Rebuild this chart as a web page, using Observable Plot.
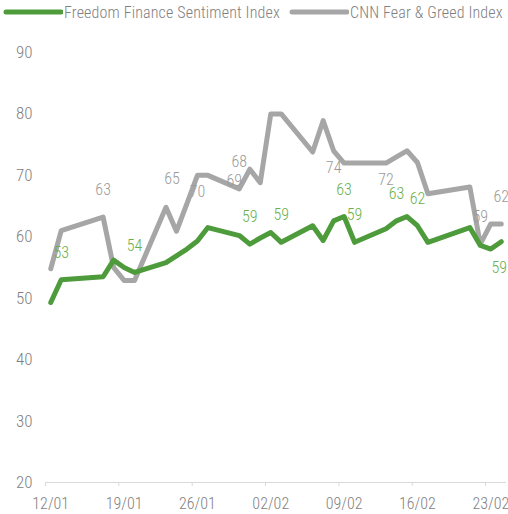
<!DOCTYPE html>
<html>
<head>
<meta charset="utf-8">
<script src="https://cdn.jsdelivr.net/npm/d3@7"></script>
<script src="https://cdn.jsdelivr.net/npm/@observablehq/plot@0.6"></script>
<style>
  html, body { margin: 0; padding: 0; background: #fff; overflow: hidden; width: 508px; height: 514px; }
  #wrap { position: relative; width: 508px; height: 514px; overflow: hidden; }
  #legend { position: absolute; top: 0; left: 0; width: 540px; height: 26px; font-family: "Roboto Condensed", Roboto, sans-serif; font-stretch: condensed; font-weight: 300; font-size: 16px; letter-spacing: 0.15px; color: #7f7f7f; }
  #legend .item { position: absolute; top: 2px; display: flex; align-items: center; white-space: nowrap; }
  #legend svg { display: block; margin-right: 1px; }
  #chart { position: absolute; top: 0; left: 0; }
  #chart svg { max-width: none !important; }
</style>
</head>
<body>
<div id="wrap">
  <div id="chart"></div>
  <div id="legend"></div>
</div>
<script>
// ---- data ----
const dates = ["2023-01-12","2023-01-13","2023-01-17","2023-01-18","2023-01-19","2023-01-20",
  "2023-01-23","2023-01-24","2023-01-25","2023-01-26","2023-01-27",
  "2023-01-30","2023-01-31","2023-02-01","2023-02-02","2023-02-03",
  "2023-02-06","2023-02-07","2023-02-08","2023-02-09","2023-02-10",
  "2023-02-13","2023-02-14","2023-02-15","2023-02-16","2023-02-17",
  "2023-02-21","2023-02-22","2023-02-23","2023-02-24"];
const freedomFinance = [49.3, 53.0, 53.5, 56.2, 55.0, 54.2,
  55.8, 56.9, 58.0, 59.3, 61.5,
  60.2, 58.8, 59.8, 60.7, 59.1,
  61.8, 59.4, 62.6, 63.3, 59.1,
  61.3, 62.6, 63.3, 61.8, 59.1,
  61.5, 58.6, 58.0, 59.2];
const cnnFearGreed = [54.8, 61.0, 63.2, 55.0, 52.9, 52.9,
  64.8, 60.9, 65.4, 70.0, 70.0,
  67.8, 71.0, 68.8, 80.0, 80.0,
  73.8, 78.9, 74.0, 72.0, 72.0,
  72.0, 73.0, 74.0, 72.1, 67.0,
  68.1, 58.8, 62.1, 62.1];
const seriesNames = ["Freedom Finance Sentiment Index", "CNN Fear & Greed Index"];
const xTickLabels = ["12/01","19/01","26/01","02/02","09/02","16/02","23/02"];
const yTicks = [20, 30, 40, 50, 60, 70, 80, 90];
// data labels
const ffLabelDates = ["2023-01-13","2023-01-20","2023-01-31","2023-02-03","2023-02-09","2023-02-10","2023-02-14","2023-02-16","2023-02-24"];
const ffLabelText  = ["53","54","59","59","63","59","63","62","59"];
const ffLabelPlace = ["above","above","above","above","above","above","above","above","farBelow"];
const cnnLabelDates = ["2023-01-17","2023-01-23","2023-01-26","2023-01-30","2023-02-01","2023-02-08","2023-02-13","2023-02-22","2023-02-24"];
const cnnLabelText  = ["63","65","70","68","69","74","72","59","62"];
const cnnLabelPlace = ["above","aboveRight","below","above","left","below","below","above","above"];

// ---- build ----
const green = "#4e9b3b", greenText = "#6aaf4b";
const gray = "#a6a6a6", grayText = "#9a9a9a";
const FONT = '"Roboto Condensed", Roboto, sans-serif';
const mid = s => new Date(s + "T12:00:00Z");
const ff = dates.map((d, i) => ({date: mid(d), v: freedomFinance[i]}));
const cnn = dates.map((d, i) => ({date: mid(d), v: cnnFearGreed[i]}));
const parseTick = t => new Date(Date.UTC(2023, +t.slice(3, 5) - 1, +t.slice(0, 2)));
const xTicks = xTickLabels.map(parseTick);                       // day boundaries (tick marks)
const xLabelPos = xTicks.map(d => new Date(+d + 12 * 3600e3));   // day centres (labels)
const offsets = {above: [0, -27], aboveRight: [6, -28], below: [0, 17], farBelow: [-2, 26], left: [-26, -2]};
function labelRows(ldates, texts, places, series) {
  return ldates.map((d, i) => {
    const p = series.find(r => +r.date === +mid(d));
    return {date: p.date, v: p.v, text: texts[i], dx: offsets[places[i]][0], dy: offsets[places[i]][1]};
  });
}
const ffLabels = labelRows(ffLabelDates, ffLabelText, ffLabelPlace, ff);
const cnnLabels = labelRows(cnnLabelDates, cnnLabelText, cnnLabelPlace, cnn);

function labelMarks(rows, fill) {
  return rows.map(r => Plot.text([r], {x: "date", y: "v", text: "text", dx: r.dx, dy: r.dy,
    fill, fontSize: 16, textAnchor: "middle", lineAnchor: "middle"}));
}

const chart = Plot.plot({
  width: 520, height: 514,
  marginTop: 52, marginBottom: 32, marginLeft: 45, marginRight: 14,
  style: {fontFamily: FONT, fontSize: "16px", fontWeight: 300, fontStretch: "condensed", color: "#7f7f7f", background: "transparent", maxWidth: "none"},
  x: {type: "utc", domain: [new Date(Date.UTC(2023, 0, 12)), new Date(Date.UTC(2023, 1, 25))]},
  y: {domain: [20, 90]},
  marks: [
    Plot.ruleY([20], {stroke: "#d9d9d9", strokeWidth: 1}),
    Plot.axisX({ticks: xTicks, tickFormat: null, text: null, tickSize: 4, stroke: "#d9d9d9", label: null}),
    Plot.axisX({ticks: xLabelPos, tickFormat: d => xTickLabels[xLabelPos.findIndex(t => +t === +d)],
      tickSize: 0, tickPadding: 15, fill: "#7f7f7f", fontSize: 16, label: null, style: "letter-spacing:0.4px"}),
    Plot.axisY({ticks: yTicks, tickSize: 0, tickPadding: 13, fill: "#7f7f7f", fontSize: 17, label: null}),
    Plot.line(cnn, {x: "date", y: "v", stroke: gray, strokeWidth: 5, strokeLinejoin: "round", strokeLinecap: "round"}),
    Plot.line(ff, {x: "date", y: "v", stroke: green, strokeWidth: 5, strokeLinejoin: "round", strokeLinecap: "round"}),
    ...labelMarks(ffLabels, greenText),
    ...labelMarks(cnnLabels, grayText)
  ]
});
chart.style.maxWidth = "none";
chart.style.width = "520px";
chart.style.height = "514px";
document.getElementById("chart").appendChild(chart);

// legend
const legend = document.getElementById("legend");
const legendItems = [
  {name: seriesNames[0], color: green, left: 3},
  {name: seriesNames[1], color: gray, left: 289}
];
legendItems.forEach(it => {
  const div = document.createElement("div");
  div.className = "item";
  div.style.left = it.left + "px";
  div.innerHTML = `<svg width="60" height="20"><line x1="3" y1="10" x2="58" y2="10" stroke="${it.color}" stroke-width="5" stroke-linecap="round"/></svg><span></span>`;
  div.querySelector("span").textContent = it.name;
  legend.appendChild(div);
});
</script>
</body>
</html>
